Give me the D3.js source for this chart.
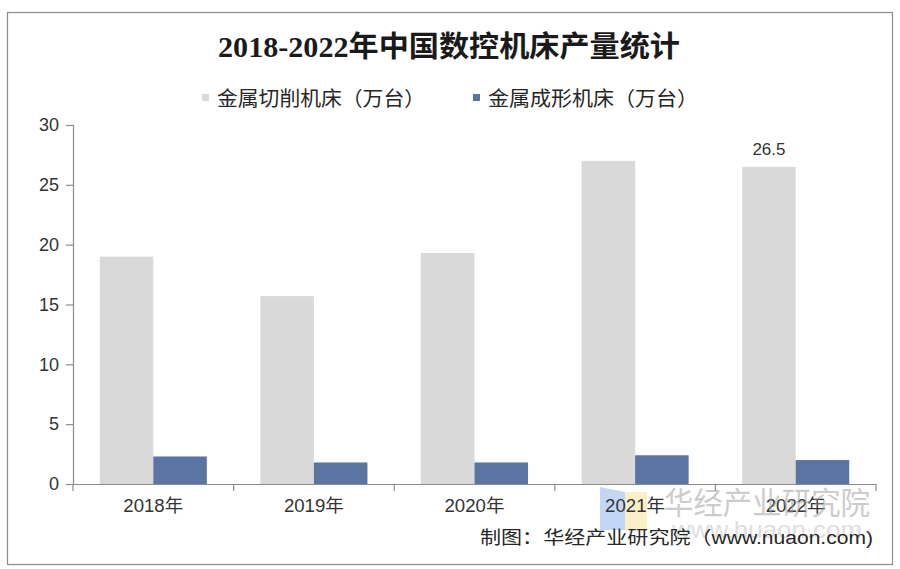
<!DOCTYPE html>
<html>
<head>
<meta charset="utf-8">
<script src="https://cdn.jsdelivr.net/npm/d3@7"></script>
<style>
  html, body { margin: 0; padding: 0; background: #fff; }
  svg { display: block; }
</style>
</head>
<body>
<svg id="chart" width="900" height="569"></svg>
<script>
const categories = ["2018年", "2019年", "2020年", "2021年", "2022年"];
const seriesNames = ["金属切削机床（万台）", "金属成形机床（万台）"];
const cuttingValues = [19.0, 15.7, 19.3, 27.0, 26.5];
const formingValues = [2.3, 1.8, 1.8, 2.4, 2.0];
const yTicks = [0, 5, 10, 15, 20, 25, 30];
const colors = ["#d9d9d9", "#5b75a2"];
const titleText = "2018-2022年中国数控机床产量统计";
const sourceText = "制图：华经产业研究院（www.nuaon.com)";

const svg = d3.select("#chart");
const sans = "Arial, 'Liberation Sans', 'Noto Sans CJK SC', sans-serif";

// outer border
svg.append("rect").attr("x", 7.5).attr("y", 12.5).attr("width", 885).attr("height", 552)
  .attr("fill", "#fff").attr("stroke", "#8c8c8c").attr("stroke-width", 1.2);

// title
svg.append("text").attr("x", 449).attr("y", 57).attr("text-anchor", "middle")
  .attr("font-family", "'Liberation Serif', 'DejaVu Serif', 'Noto Sans CJK SC', serif")
  .attr("font-size", 29).attr("font-weight", 600).attr("fill", "#1a1a1a")
  .attr("textLength", 462).attr("lengthAdjust", "spacingAndGlyphs")
  .text(titleText);

// legend
const legendPos = [{sx: 202, tx: 217, w: 208}, {sx: 473, tx: 488, w: 210}];
seriesNames.forEach((n, i) => {
  svg.append("rect").attr("x", legendPos[i].sx).attr("y", 94).attr("width", 7).attr("height", 7)
    .attr("fill", colors[i]);
  svg.append("text").attr("x", legendPos[i].tx).attr("y", 106)
    .attr("font-family", sans).attr("font-size", 20).attr("fill", "#262626")
    .attr("textLength", legendPos[i].w).attr("lengthAdjust", "spacingAndGlyphs")
    .text(n);
});

// scales
const x = d3.scaleBand().domain(categories).range([73, 876]).paddingInner(0).paddingOuter(0);
const bw = x.bandwidth();
const xs = d3.scaleBand().domain([0, 1]).range([bw / 6, bw * 5 / 6]).padding(0);
const y = d3.scaleLinear().domain([0, 30]).range([484, 125]);

const data = categories.map((c, i) => ({c, v: [cuttingValues[i], formingValues[i]]}));

// watermark logo (behind)
const wm = svg.append("g").attr("opacity", 0.55);
wm.append("path").attr("d", "M600,487 L625,492 L625,530 L600,530 Z").attr("fill", "#8fb8ee");
wm.append("rect").attr("x", 625).attr("y", 492).attr("width", 22).attr("height", 38).attr("fill", "#f6e39a");

// bars
const g = svg.append("g");
data.forEach(d => {
  d.v.forEach((v, j) => {
    g.append("rect")
      .attr("x", x(d.c) + xs(j))
      .attr("y", y(v))
      .attr("width", xs.bandwidth())
      .attr("height", y(0) - y(v))
      .attr("fill", colors[j]);
  });
});

// y axis
const yAxis = d3.axisLeft(y).tickValues(yTicks).tickSize(7).tickPadding(7);
const ya = svg.append("g").attr("transform", "translate(73,0)").call(yAxis);
ya.select(".domain").attr("stroke", "#8c8c8c").attr("stroke-width", 1.2);
ya.selectAll(".tick line").attr("stroke", "#8c8c8c").attr("stroke-width", 1.2);
ya.selectAll(".tick text").attr("font-family", sans).attr("font-size", 18).attr("fill", "#333");

// x axis
const xAxis = d3.axisBottom(x).tickSize(0).tickPadding(15);
const xa = svg.append("g").attr("transform", "translate(0,484)").call(xAxis);
xa.select(".domain").attr("stroke", "#8c8c8c").attr("stroke-width", 1.2);
xa.selectAll(".tick text").attr("font-family", sans).attr("font-size", 18).attr("fill", "#333")
  .attr("dy", "0.71em").attr("textLength", 60).attr("lengthAdjust", "spacingAndGlyphs");
// boundary ticks
const bounds = categories.map(c => x(c)).concat([x.range()[1]]);
svg.append("g").selectAll("line").data(bounds).join("line")
  .attr("x1", d => d).attr("x2", d => d).attr("y1", 484).attr("y2", 491)
  .attr("stroke", "#8c8c8c").attr("stroke-width", 1.2);

// data label for 2022
svg.append("text").attr("x", x("2022年") + xs(0) + xs.bandwidth() / 2).attr("y", y(cuttingValues[4]) - 12)
  .attr("text-anchor", "middle").attr("font-family", sans).attr("font-size", 17).attr("fill", "#333")
  .text(cuttingValues[4].toFixed(1));

// watermark text
svg.append("text").attr("x", 664).attr("y", 514).attr("font-family", "'Noto Sans CJK SC', sans-serif")
  .attr("font-size", 31).attr("fill", "#9a9a9a").attr("opacity", 0.5)
  .attr("textLength", 206).attr("lengthAdjust", "spacingAndGlyphs").text("华经产业研究院");
svg.append("text").attr("x", 672).attr("y", 538).attr("font-family", sans)
  .attr("font-size", 24).attr("fill", "#b0b0b0").attr("opacity", 0.4)
  .attr("textLength", 190).attr("lengthAdjust", "spacingAndGlyphs").text("www.huaon.com");

// source
svg.append("text").attr("x", 480).attr("y", 544).attr("font-family", sans)
  .attr("font-size", 18).attr("fill", "#262626")
  .attr("textLength", 393).attr("lengthAdjust", "spacingAndGlyphs")
  .text(sourceText);
</script>
</body>
</html>
